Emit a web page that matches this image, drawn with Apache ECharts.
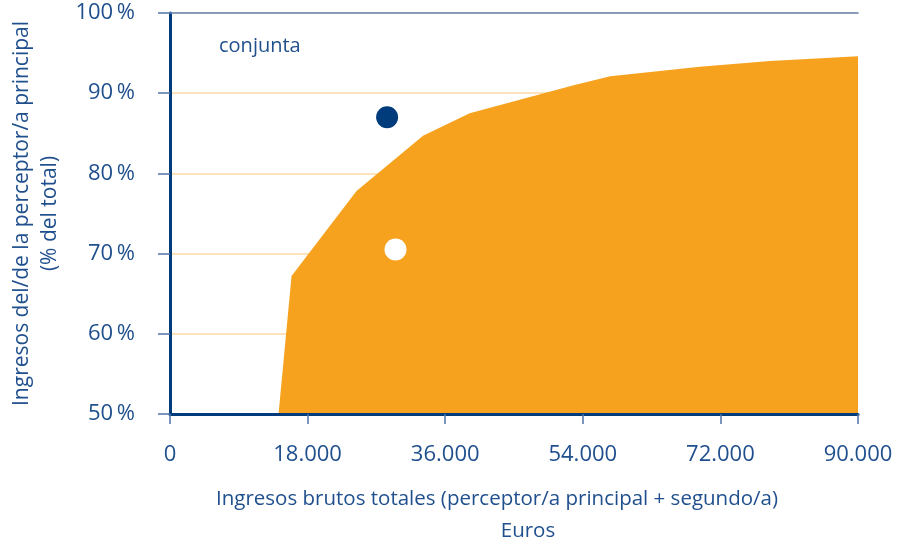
<!DOCTYPE html>
<html>
<head>
<meta charset="utf-8">
<script src="https://cdn.jsdelivr.net/npm/echarts@6/dist/echarts.min.js"></script>
<style>html,body{margin:0;padding:0;background:#fff}#c{width:901px;height:543px}</style>
</head>
<body>
<div id="c"></div>
<script>
// Curve: income share of main earner (%) vs total gross income (euros)
const curveIncome = [14200, 15900, 24400, 33100, 39200, 52800, 57600, 69300, 78500, 90000];
const curveShare  = [50, 67.2, 77.8, 84.7, 87.5, 91.0, 92.1, 93.3, 94.0, 94.6];
// Highlighted points
const darkPoint  = [28400, 87.0];
const whitePoint = [29500, 70.5];
const xTicks = [0, 18000, 36000, 54000, 72000, 90000];
const yTicks = [50, 60, 70, 80, 90, 100];
const xName = 'Ingresos brutos totales (perceptor/a principal + segundo/a)';
const xUnit = 'Euros';
const yName = 'Ingresos del/de la perceptor/a principal\n(% del total)';
const label = 'conjunta';

const blue = '#1f4f8d';
const font = 'Open Sans';
const chart = echarts.init(document.getElementById('c'));
function fmtEuro(v){ return v === 0 ? '0' : String(v).replace(/\B(?=(\d{3})+(?!\d))/g, '.'); }
const xMin = xTicks[0], xMax = xTicks[xTicks.length-1];
const yMin = yTicks[0], yMax = yTicks[yTicks.length-1];
chart.setOption({
  animation: false,
  textStyle: { fontFamily: font },
  grid: { left: 170, right: 43, top: 13, bottom: 129, outerBoundsMode: 'none', containLabel: false },
  xAxis: [{
    type: 'value', min: xMin, max: xMax, interval: 18000,
    axisLine: { lineStyle: { color: '#003b7b', width: 3 } },
    axisTick: { show: true, length: 10, lineStyle: { color: '#4f74a6', width: 1.5 } },
    axisLabel: { formatter: fmtEuro, color: blue, fontSize: 22, margin: 30, fontFamily: font },
    splitLine: { show: false },
    name: xName, nameLocation: 'middle', nameGap: 75,
    nameTextStyle: { color: blue, fontSize: 20.5, fontFamily: font, padding: [0, 34, 0, 0] },
    z: 10
  }, {
    type: 'value', position: 'top', min: xMin, max: xMax,
    axisLine: { show: true, lineStyle: { color: '#6384b3', width: 1.5 } },
    axisTick: { show: false }, axisLabel: { show: false }, splitLine: { show: false },
    z: 10
  }],
  yAxis: [{
    type: 'value', min: yMin, max: yMax, interval: 10,
    axisLine: { show: true, lineStyle: { color: '#003b7b', width: 3 } },
    axisTick: { show: true, length: 12, lineStyle: { color: '#4f74a6', width: 1.5 } },
    axisLabel: { formatter: v => v + '\u2009%', color: blue, fontSize: 22, margin: 35, fontFamily: font },
    splitLine: { show: false },
    name: yName, nameLocation: 'middle', nameGap: 106,
    nameTextStyle: { color: blue, fontSize: 21, lineHeight: 28, fontFamily: font },
    z: 10
  }, {
    type: 'value', position: 'right', min: yMin, max: yMax, interval: 10,
    axisLine: { show: true, lineStyle: { color: '#6384b3', width: 1.5 } },
    axisTick: { show: false }, axisLabel: { show: false },
    splitLine: { show: true, lineStyle: { color: '#fcd9a3', width: 1.5 } },
    z: 0
  }],
  graphic: [
    { type: 'text', x: 219, y: 36, style: { text: label, fill: blue, font: '20px "Open Sans"' } },
    { type: 'text', x: 528, y: 531, style: { text: xUnit, fill: blue, font: '20.5px "Open Sans"', textAlign: 'center', textVerticalAlign: 'middle' } }
  ],
  series: [
    {
      type: 'line', data: curveIncome.map((x, i) => [x, curveShare[i]]),
      showSymbol: false, lineStyle: { width: 0 }, silent: true, z: 2,
      areaStyle: { color: '#f6a21e', opacity: 1, origin: 'start' }
    },
    { type: 'scatter', z: 5, data: [darkPoint], symbolSize: 22, itemStyle: { color: '#003b7b', opacity: 1 } },
    { type: 'scatter', z: 5, data: [whitePoint], symbolSize: 22, itemStyle: { color: '#ffffff', opacity: 1 } }
  ]
});
</script>
</body>
</html>
